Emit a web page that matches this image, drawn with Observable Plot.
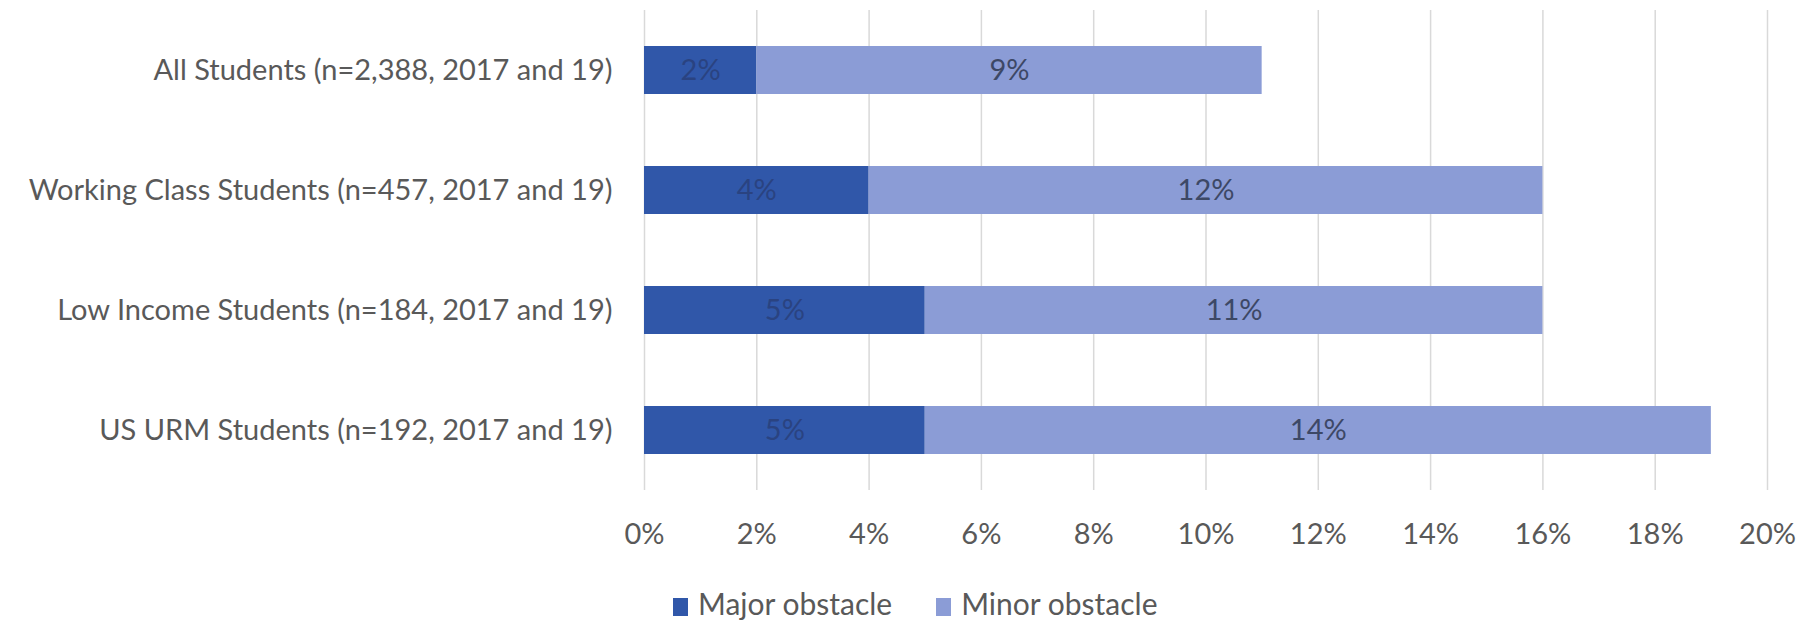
<!DOCTYPE html>
<html>
<head>
<meta charset="utf-8">
<script src="https://cdn.jsdelivr.net/npm/d3@7"></script>
<script src="https://cdn.jsdelivr.net/npm/@observablehq/plot@0.6"></script>
<style>
  body { margin: 0; background: #fff; font-family: Lato, "Open Sans", sans-serif; }
  #legend { margin-top: 26px; height: 34px; line-height: 34px; padding-left: 673px; font-size: 30px; color: #595959; white-space: nowrap; }
  .item { display: inline-block; margin-right: 44px; }
  .sw { display: inline-block; width: 15px; height: 18px; vertical-align: -1px; margin-right: 10px; }
</style>
</head>
<body>
<div id="chart"></div>
<div id="legend"></div>
<script>
const categories = [
  "All Students (n=2,388, 2017 and 19)",
  "Working Class Students (n=457, 2017 and 19)",
  "Low Income Students (n=184, 2017 and 19)",
  "US URM Students (n=192, 2017 and 19)"
];
const seriesNames = ["Major obstacle", "Minor obstacle"];
const majorValues = [2, 4, 5, 5];
const minorValues = [9, 12, 11, 14];
const xTicks = [0, 2, 4, 6, 8, 10, 12, 14, 16, 18, 20];
const xTickLabels = ["0%", "2%", "4%", "6%", "8%", "10%", "12%", "14%", "16%", "18%", "20%"];
const colors = ["#3057a9", "#8b9cd6"];
const labelColors = ["#2a4381", "#3d4866"];

const rows = categories.flatMap((c, i) => [
  {category: c, series: seriesNames[0], value: majorValues[i]},
  {category: c, series: seriesNames[1], value: minorValues[i]}
]);

const font = "Lato, 'Open Sans', sans-serif";

const textMark = (k) => Plot.text(rows, Plot.stackX({
  x: "value", y: "category", z: "series", order: seriesNames,
  text: d => d.series === seriesNames[k] ? d.value + "%" : null,
  fill: labelColors[k], fontSize: 29
}));

const plot = Plot.plot({
  width: 1814,
  height: 560,
  marginLeft: 644,
  marginRight: 47,
  marginTop: 10,
  marginBottom: 70,
  style: {fontFamily: font, fontSize: "29px", color: "#595959", background: "white"},
  x: {domain: [0, 20], label: null},
  y: {domain: categories, paddingInner: 0.603, paddingOuter: 0.29, label: null},
  color: {domain: seriesNames, range: colors},
  marks: [
    Plot.gridX(xTicks, {stroke: "#d9d9d9", strokeOpacity: 1, strokeWidth: 1.5}),
    Plot.barX(rows, Plot.stackX({x: "value", y: "category", z: "series", order: seriesNames, fill: "series"})),
    textMark(0),
    textMark(1),
    Plot.axisX({ticks: xTicks, tickSize: 0, tickPadding: 33, tickFormat: d => xTickLabels[xTicks.indexOf(d)], fontSize: 29, fill: "#595959", label: null}),
    Plot.axisY({tickSize: 0, tickPadding: 32, fontSize: 29, fill: "#595959", label: null})
  ]
});
document.getElementById("chart").appendChild(plot);

const legend = document.getElementById("legend");
seriesNames.forEach((s, i) => {
  const item = document.createElement("span");
  item.className = "item";
  const sw = document.createElement("span");
  sw.className = "sw";
  sw.style.background = colors[i];
  item.appendChild(sw);
  item.appendChild(document.createTextNode(s));
  legend.appendChild(item);
});
</script>
</body>
</html>
